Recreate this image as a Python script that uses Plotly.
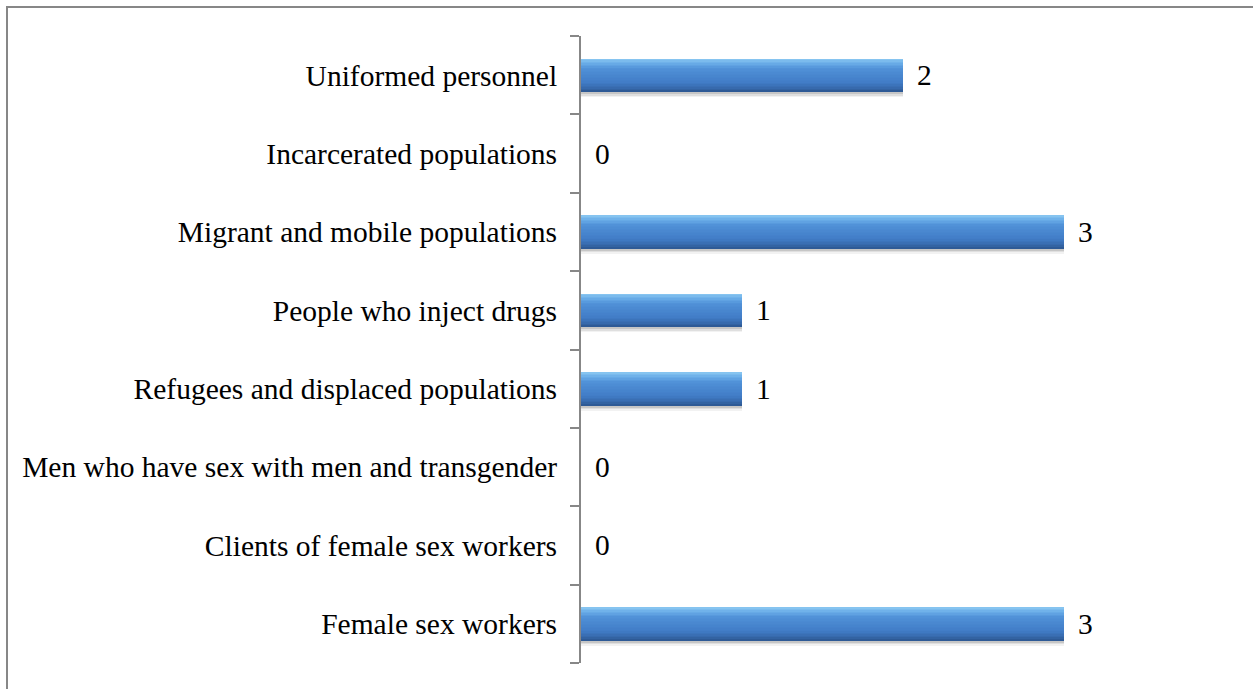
import plotly.graph_objects as go

# Key populations (listed bottom to top) and number of entries for each
categories = [
    "Female sex workers",
    "Clients of female sex workers",
    "Men who have sex with men and transgender",
    "Refugees and displaced populations",
    "People who inject drugs",
    "Migrant and mobile populations",
    "Incarcerated populations",
    "Uniformed personnel",
]
values = [3, 0, 0, 1, 1, 3, 0, 2]

FONT = "Liberation Serif, Times New Roman, serif"
BAR_W = 0.42

# Vertical colour ramp used to give the bars a glossy, bevelled look
stops = [
    (0.00, (0x8c, 0xc8, 0xf2)),
    (0.12, (0x6e, 0xb1, 0xea)),
    (0.30, (0x50, 0x91, 0xd8)),
    (0.72, (0x41, 0x7c, 0xc6)),
    (0.90, (0x36, 0x69, 0xab)),
    (1.00, (0x2b, 0x56, 0x90)),
]


def ramp(t):
    for (t0, c0), (t1, c1) in zip(stops, stops[1:]):
        if t0 <= t <= t1:
            f = (t - t0) / (t1 - t0) if t1 > t0 else 0
            c = [round(a + (b - a) * f) for a, b in zip(c0, c1)]
            return "rgb({},{},{})".format(*c)
    return "rgb({},{},{})".format(*stops[-1][1])


fig = go.Figure()

# soft drop shadow under each bar
for k, alpha in enumerate([0.05, 0.08, 0.11]):
    fig.add_trace(go.Bar(
        x=values, y=categories, orientation="h",
        width=BAR_W, offset=-BAR_W / 2 - 0.07 + 0.018 * k,
        marker=dict(color=f"rgba(0,0,0,{alpha})", line_width=0),
        hoverinfo="skip", showlegend=False,
    ))

# bar body built from horizontal bands, top to bottom
N = 22
for i in range(N):
    t = (i + 0.5) / N
    top = BAR_W / 2 - BAR_W * i / N
    fig.add_trace(go.Bar(
        x=values, y=categories, orientation="h",
        width=BAR_W / N + 0.002, offset=top - BAR_W / N - 0.001,
        marker=dict(color=ramp(t), line_width=0),
        hoverinfo="skip", showlegend=False,
    ))

# value labels to the right of each bar
for cat, v in zip(categories, values):
    fig.add_annotation(
        x=v, y=cat, text=str(v), showarrow=False,
        xanchor="left", yanchor="middle", xshift=12,
        font=dict(family=FONT, size=29.5, color="black"),
    )

# outer frame of the chart
fig.add_shape(
    type="rect", xref="paper", yref="paper",
    xsizemode="pixel", ysizemode="pixel", xanchor=0, yanchor=1,
    x0=-574, x1=800, y0=-700, y1=29,
    line=dict(color="#878787", width=2), fillcolor="rgba(0,0,0,0)",
    layer="below",
)

fig.update_layout(
    width=1253, height=689, autosize=False,
    margin=dict(l=581, r=108, t=36, b=26, pad=0),
    barmode="overlay", bargap=0,
    paper_bgcolor="white", plot_bgcolor="white",
    font=dict(family=FONT, size=29.5, color="black"),
    showlegend=False,
)
fig.update_xaxes(range=[0, 3.5], visible=False, fixedrange=True)
fig.update_yaxes(
    type="category", categoryorder="array", categoryarray=categories,
    range=[-0.5, len(categories) - 0.5],
    showline=True, linecolor="#878787", linewidth=2,
    ticks="outside", tickson="boundaries", ticklen=9,
    tickcolor="#878787", tickwidth=2,
    showgrid=False, zeroline=False, ticklabelstandoff=16,
    tickfont=dict(family=FONT, size=29.5, color="black"),
)

fig.write_html("out.html")
